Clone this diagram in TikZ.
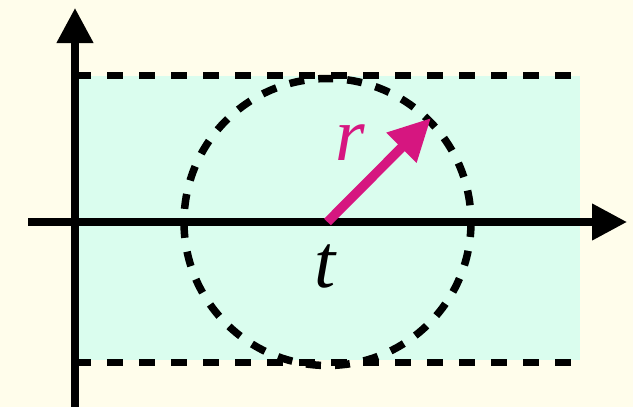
\documentclass[tikz,border=0pt]{standalone}
\usepackage{fontspec}
\setmainfont{Liberation Serif}
\usetikzlibrary{arrows.meta}
\definecolor{bgc}{RGB}{255,253,235}
\definecolor{mintc}{RGB}{218,253,238}
\definecolor{magc}{RGB}{214,22,128}
\tikzset{
  dashline/.style={line width=7pt, dash pattern=on 16pt off 16pt},
  circdash/.style={line width=7.5pt, dash pattern=on 15pt off 14pt},
  axisline/.style={line width=7.5pt, -{Triangle[length=35pt,width=35pt]}},
  radarrow/.style={magc, line width=9.5pt, -{Triangle[length=42pt,width=40pt]}},
  lbl/.style={inner sep=0pt, font=\fontsize{76}{80}\selectfont\itshape}
}
\begin{document}
\begin{tikzpicture}[x=1pt,y=-1pt]
\fill[bgc] (0,0) rectangle (633,407);
\useasboundingbox (0,0) rectangle (633,407);
\fill[mintc] (75,76) rectangle (580,360);
\coordinate (TL) at (75,75);
\coordinate (TR) at (580,75);
\coordinate (BL) at (75,362);
\coordinate (BR) at (580,362);
\draw[dashline] (TL) -- (TR);
\draw[dashline] (BL) -- (BR);
\coordinate (O) at (327.5,222);
\draw[circdash] (O) circle[radius=143.5];
\coordinate (xs) at (28,222);
\coordinate (xe) at (627,222);
\coordinate (ys) at (75,407);
\coordinate (ye) at (75,8);
\draw[axisline] (xs) -- (xe);
\draw[axisline] (ys) -- (ye);
\coordinate (tip) at (431,118);
\draw[radarrow] (O) -- (tip);
\node[lbl, text=magc] (r) at (350,143) {r};
\node[lbl] (t) at (325,266) {t};
\end{tikzpicture}
\end{document}
